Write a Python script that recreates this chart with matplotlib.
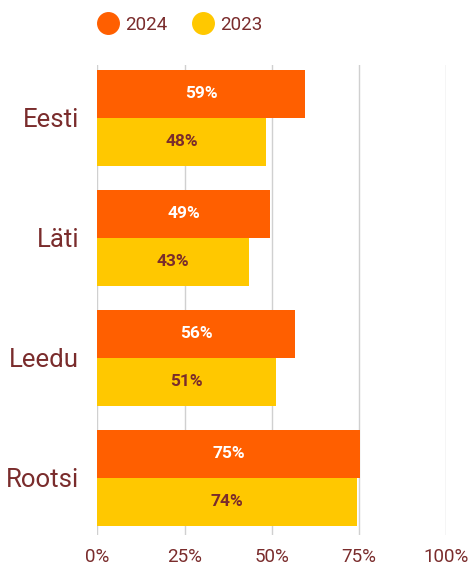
import matplotlib.pyplot as plt
import numpy as np
from matplotlib.lines import Line2D

plt.rcParams["font.family"] = ["Roboto", "DejaVu Sans"]

countries = ["Eesti", "Läti", "Leedu", "Rootsi"]
# bar lengths, labels as printed
v2024 = [59.4, 49.4, 56.6, 75.3]
v2023 = [48.3, 43.4, 51.2, 74.4]
lab2024 = ["59%", "49%", "56%", "75%"]
lab2023 = ["48%", "43%", "51%", "74%"]
ticks = [0, 25, 50, 75, 100]

ORANGE = "#FF5F00"
YELLOW = "#FFC800"
TEXT = "#7A2C2C"

fig = plt.figure(figsize=(4.72, 5.67), dpi=100)
ax = fig.add_axes([97.3 / 472, 1 - 535 / 567, 349 / 472, 470 / 567])

y = np.arange(len(countries))
h = 0.4
b1 = ax.barh(y - h / 2, v2024, height=h, color=ORANGE, zorder=2)
b2 = ax.barh(y + h / 2, v2023, height=h, color=YELLOW, zorder=2)

for bar, v, t in zip(b1, v2024, lab2024):
    ax.text(v / 2, bar.get_y() + h / 2, t, ha="center", va="center",
            color="white", fontsize=12.5, fontweight="bold", zorder=3)
for bar, v, t in zip(b2, v2023, lab2023):
    ax.text(v / 2, bar.get_y() + h / 2, t, ha="center", va="center",
            color=TEXT, fontsize=12.5, fontweight="bold", zorder=3)

ax.set_xlim(0, 100)
ax.set_ylim(3.475, -0.44)
ax.set_xticks(ticks)
ax.set_xticklabels([f"{t}%" for t in ticks], color=TEXT, fontsize=13.5)
ax.set_yticks(y)
ax.set_yticklabels(countries, color=TEXT, fontsize=18.5)
ax.tick_params(axis="both", length=0)
ax.tick_params(axis="x", pad=9)
ax.tick_params(axis="y", pad=13)
ax.grid(axis="x", color="#D0D0D0", linewidth=1, zorder=0)
for s in ax.spines.values():
    s.set_visible(False)

handles = [
    Line2D([], [], marker="o", linestyle="", markersize=15.5, color=ORANGE),
    Line2D([], [], marker="o", linestyle="", markersize=15.5, color=YELLOW),
]
fig.legend(handles, ["2024", "2023"], loc="center left", bbox_to_anchor=(84 / 472, 1 - 25 / 567),
           ncol=2, frameon=False, fontsize=13.5, labelcolor=TEXT,
           handletextpad=0.3, columnspacing=1.3, handlelength=1.2, borderpad=0.2)

fig.savefig("out.png", dpi=100)
